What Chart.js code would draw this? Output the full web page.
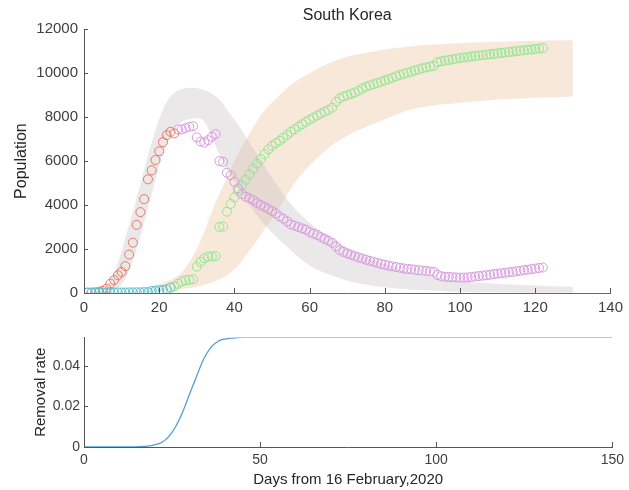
<!DOCTYPE html>
<html>
<head>
<meta charset="utf-8">
<title>South Korea</title>
<script src="https://cdn.jsdelivr.net/npm/chart.js@4.4.0/dist/chart.umd.min.js"></script>
<style>
  body { margin: 0; background: #fff; }
  canvas { position: absolute; left: 0; }
  #top { top: 0; }
  #bottom { top: 325px; }
</style>
</head>
<body>
<canvas id="top" width="629" height="325"></canvas>
<canvas id="bottom" width="629" height="165"></canvas>
<script>
// observed values, one circle per day (start day + values)
const cyanStart = 1;
const cyanValues = [10, 10, 12, 16, 16, 16, 16, 18, 22, 22, 22, 27, 28, 30, 30, 41, 41, 88, 108, 118, 135, 166, 247];

const redStart = 1;
const redValues = [20, 25, 30, 60, 100, 200, 430, 590, 810, 960, 1220, 1750, 2290, 3100, 3680, 4270,
  5170, 5580, 6050, 6450, 6860, 7180, 7330, 7260];

const purpleStart = 25;
const purpleValues = [7440, 7440, 7500, 7560, 7590,
  7080, 6890, 6840, 6950, 7110, 7230,
  6000, 5970, 5470, 5350, 5060, 4760, 4500, 4380, 4300, 4230,
  4100, 4000, 3920, 3820, 3720, 3620, 3480, 3380, 3260, 3120,
  3060, 3000, 2940, 2880, 2770, 2700, 2640, 2540, 2460, 2380,
  2280, 2120, 1950, 1870, 1800, 1740, 1680, 1620, 1570, 1510,
  1460, 1420, 1370, 1320, 1280, 1240, 1210, 1180, 1150, 1120,
  1100, 1080, 1060, 1040, 1020, 1000, 980, 960, 820, 760,
  740, 730, 720, 710, 700, 700, 710, 730, 750, 770,
  790, 810, 830, 860, 880, 900, 920, 940, 960, 990,
  1010, 1040, 1060, 1090, 1110, 1140, 1160];

const greenStart = 24;
const greenValues = [300, 420, 520, 580, 600, 620,
  1200, 1420, 1580, 1660, 1660, 1680,
  3000, 3030, 3700, 4050, 4350, 4650, 4900, 5150, 5400, 5650,
  5880, 6100, 6320, 6530, 6700, 6820, 6930, 7060, 7200, 7330,
  7450, 7570, 7680, 7790, 7890, 7980, 8070, 8160, 8250, 8330,
  8430, 8700, 8850, 8940, 9000, 9060, 9120, 9200, 9300, 9380,
  9440, 9500, 9550, 9610, 9670, 9730, 9790, 9860, 9920, 9970,
  10020, 10070, 10120, 10170, 10220, 10260, 10300, 10330, 10500, 10540,
  10570, 10600, 10630, 10660, 10690, 10710, 10730, 10760, 10780, 10800,
  10820, 10840, 10860, 10880, 10900, 10920, 10940, 10960, 10980, 11000,
  11020, 11040, 11060, 11080, 11100, 11120, 11140];

// model bands
const grayDays  = [0, 3, 6, 8, 10, 12, 14, 16, 18, 20, 22, 24, 26, 28, 30, 32, 34, 36, 38, 41, 44, 47, 50, 55, 60, 65, 70, 75, 80, 85, 90, 100, 110, 120, 130];
const grayUpper = [0, 30, 300, 900, 1900, 3100, 4300, 5600, 6850, 7900, 8700, 9100, 9280, 9340, 9320, 9220, 9060, 8800, 8350, 7650, 6850, 6050, 5250, 4050, 3200, 2600, 2050, 1650, 1300, 1000, 800, 550, 420, 340, 280];
const grayLower = [0, 0, 20, 120, 400, 1000, 2000, 3200, 4500, 5800, 6800, 7450, 7780, 7900, 7950, 7800, 7100, 6300, 5650, 4850, 4000, 3320, 2750, 1950, 1250, 850, 560, 380, 260, 180, 120, 60, 30, 15, 10];

const peachDays  = [0, 10, 15, 20, 25, 27, 30, 32, 34, 36, 38, 41, 43, 45, 48, 52, 56, 60, 65, 70, 75, 80, 85, 90, 100, 110, 120, 130];
const peachUpper = [0, 40, 130, 400, 800, 1150, 2000, 2800, 3700, 4500, 5250, 6350, 6950, 7550, 8300, 9000, 9600, 10000, 10450, 10750, 10930, 11080, 11180, 11270, 11370, 11430, 11470, 11500];
const peachLower = [0, 20, 40, 80, 150, 200, 280, 380, 480, 620, 800, 1250, 1700, 2150, 2900, 3900, 5000, 5800, 6600, 7150, 7550, 7900, 8250, 8450, 8650, 8800, 8880, 8940];

// removal rate curve
const rateDays   = [0, 10, 15, 18, 20, 22, 24, 26, 28, 30, 32, 34, 36, 38, 40, 42, 45, 50, 60, 100, 150];
const rateValues = [0, 0, 0.0001, 0.0004, 0.0010, 0.0022, 0.0050, 0.0100, 0.0172, 0.0262, 0.0350, 0.0435, 0.0490, 0.0520, 0.0532, 0.0537, 0.0540, 0.0540, 0.0540, 0.0540, 0.0540];

const topXTicks = [0, 20, 40, 60, 80, 100, 120, 140];
const topYTicks = [0, 2000, 4000, 6000, 8000, 10000, 12000];
const botXTicks = [0, 50, 100, 150];
const botYTicks = [0, 0.02, 0.04];

const daily = (start, vals) => vals.map((v, i) => ({ x: start + i, y: v }));
const pair = (days, vals) => days.map((d, i) => ({ x: d, y: vals[i] }));

Chart.defaults.font.family = '"Liberation Sans", Arial, sans-serif';
Chart.defaults.color = '#404040';

// MATLAB style ticks pointing into the plot
const inwardTicks = {
  id: 'inwardTicks',
  afterDatasetsDraw(chart) {
    const { ctx, chartArea, scales } = chart;
    ctx.save();
    ctx.strokeStyle = '#555';
    ctx.lineWidth = 1;
    ctx.beginPath();
    scales.x.ticks.forEach(t => {
      const px = Math.round(scales.x.getPixelForValue(t.value)) + 0.5;
      ctx.moveTo(px, chartArea.bottom);
      ctx.lineTo(px, chartArea.bottom - 5);
    });
    scales.y.ticks.forEach(t => {
      const py = Math.round(scales.y.getPixelForValue(t.value)) + 0.5;
      ctx.moveTo(chartArea.left, py);
      ctx.lineTo(chartArea.left + 4, py);
    });
    ctx.stroke();
    ctx.restore();
  }
};

const setTicks = list => scale => { scale.ticks = list.map(v => ({ value: v })); };

function band(data, fill, color) {
  return {
    data, fill, backgroundColor: color,
    borderColor: 'transparent', borderWidth: 0,
    pointRadius: 0, cubicInterpolationMode: 'monotone', order: 10
  };
}

function circles(data, color) {
  return {
    data, showLine: false,
    pointRadius: 4.5, pointBorderWidth: 1,
    pointBorderColor: color, pointBackgroundColor: 'transparent',
    order: 1
  };
}

new Chart(document.getElementById('top'), {
  type: 'line',
  data: {
    datasets: [
      band(pair(grayDays, grayUpper), '+1', 'rgba(200,194,194,0.38)'),
      band(pair(grayDays, grayLower), false, 'transparent'),
      band(pair(peachDays, peachUpper), '+1', 'rgba(232,190,150,0.35)'),
      band(pair(peachDays, peachLower), false, 'transparent'),
      circles(daily(cyanStart, cyanValues), '#55c3d6'),
      circles(daily(redStart, redValues), '#e87a64'),
      circles(daily(purpleStart, purpleValues), '#d898e0'),
      circles(daily(greenStart, greenValues), '#8fe68f')
    ]
  },
  options: {
    responsive: false,
    animation: false,
    layout: { padding: { left: 0, right: 13, top: 0, bottom: 0 } },
    plugins: {
      legend: { display: false },
      tooltip: { enabled: false },
      title: {
        display: true, text: 'South Korea', fullSize: false,
        color: '#262626', font: { size: 16, weight: 'normal' },
        padding: { top: 6, bottom: 4 }
      }
    },
    scales: {
      x: {
        type: 'linear', min: 0, max: 140,
        afterBuildTicks: setTicks(topXTicks),
        afterFit: s => { s.height = 32; },
        grid: { display: false, drawTicks: false },
        border: { display: true, color: '#666', width: 1 },
        ticks: { font: { size: 15 }, padding: 6, maxRotation: 0, autoSkip: false, callback: v => String(v) }
      },
      y: {
        type: 'linear', min: 0, max: 12000,
        afterBuildTicks: setTicks(topYTicks),
        afterFit: s => { s.width = 84; },
        grid: { display: false, drawTicks: false },
        border: { display: true, color: '#555', width: 1 },
        ticks: { font: { size: 15 }, padding: 6, callback: v => String(v) },
        title: { display: true, text: 'Population', color: '#262626', font: { size: 16 }, padding: { top: 12 } }
      }
    }
  },
  plugins: [inwardTicks]
});

new Chart(document.getElementById('bottom'), {
  type: 'line',
  data: {
    datasets: [{
      data: pair(rateDays, rateValues),
      borderColor: '#4f9fd4', borderWidth: 1.3,
      pointRadius: 0, fill: false, cubicInterpolationMode: 'monotone'
    }]
  },
  options: {
    responsive: false,
    animation: false,
    layout: { padding: { left: 0, right: 13, top: 12, bottom: 0 } },
    plugins: { legend: { display: false }, tooltip: { enabled: false } },
    scales: {
      x: {
        type: 'linear', min: 0, max: 150,
        afterBuildTicks: setTicks(botXTicks),
        afterFit: s => { s.height = 43; },
        grid: { display: false, drawTicks: false },
        border: { display: true, color: '#555', width: 1 },
        ticks: { font: { size: 14 }, padding: 5, maxRotation: 0, autoSkip: false, callback: v => String(v) },
        title: { display: true, text: 'Days from 16 February,2020', color: '#262626', font: { size: 15 }, padding: { top: 0, bottom: 1 } }
      },
      y: {
        type: 'linear', min: 0, max: 0.054,
        afterBuildTicks: setTicks(botYTicks),
        afterFit: s => { s.width = 84; },
        grid: { display: false, drawTicks: false },
        border: { display: true, color: '#555', width: 1 },
        ticks: { font: { size: 14 }, padding: 4, callback: v => String(v) },
        title: { display: true, text: 'Removal rate', color: '#262626', font: { size: 15 }, padding: { top: 32 } }
      }
    }
  },
  plugins: [inwardTicks]
});
</script>
</body>
</html>
